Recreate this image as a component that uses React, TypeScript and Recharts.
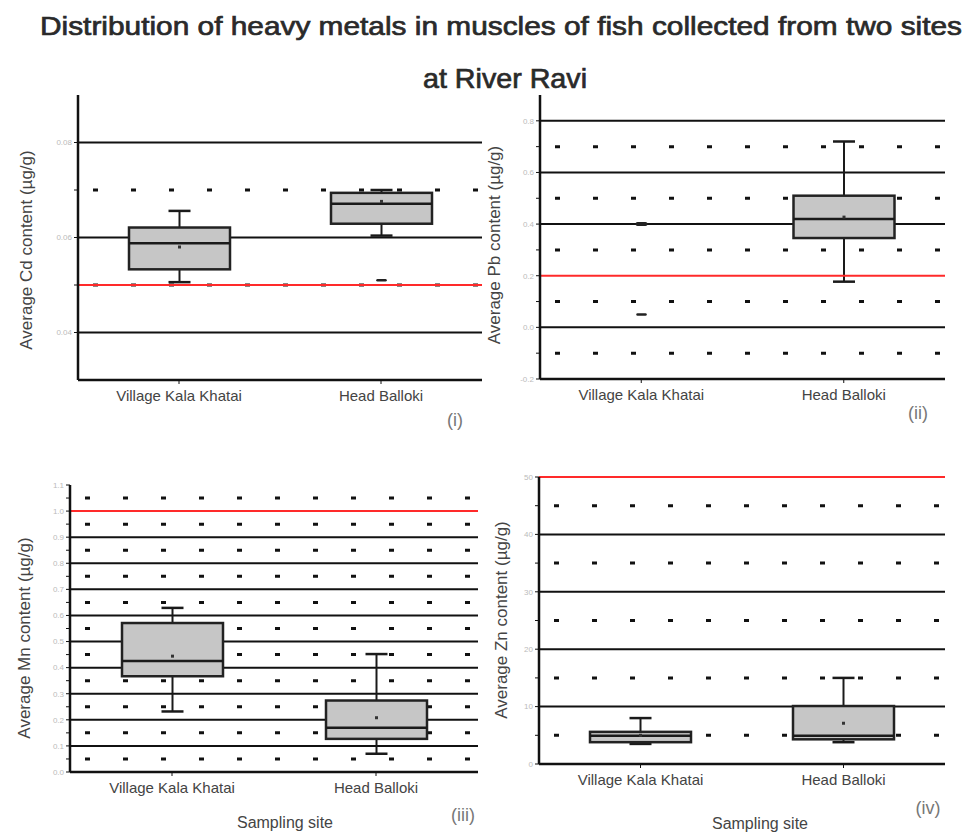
import React from 'react';
import { ComposedChart, Bar, XAxis, YAxis, ReferenceLine, CartesianGrid } from 'recharts';

const sites = ['Village Kala Khatai', 'Head Balloki'];

// Cd (panel i)
const cdMin = [0.0506, 0.0604];
const cdQ1 = [0.0533, 0.0629];
const cdMedian = [0.0588, 0.0671];
const cdQ3 = [0.0621, 0.0694];
const cdMax = [0.0656, 0.07];
const cdMean = [0.058, 0.0676];
const cdOutliers = [[], [0.051]];
const cdMajor = [0.04, 0.06, 0.08];
const cdMinor = [0.05, 0.07];

// Pb (panel ii)
const pbMin = [null, 0.177];
const pbQ1 = [null, 0.346];
const pbMedian = [null, 0.42];
const pbQ3 = [null, 0.51];
const pbMax = [null, 0.72];
const pbMean = [null, 0.427];
const pbOutliers = [[0.4, 0.05], []];
const pbMajor = [-0.2, 0, 0.2, 0.4, 0.6, 0.8];
const pbMinor = [-0.1, 0.1, 0.3, 0.5, 0.7];

// Mn (panel iii)
const mnMin = [0.232, 0.07];
const mnQ1 = [0.367, 0.127];
const mnMedian = [0.425, 0.17];
const mnQ3 = [0.571, 0.274];
const mnMax = [0.629, 0.452];
const mnMean = [0.444, 0.208];
const mnOutliers = [[], []];
const mnMajor = [0, 0.1, 0.2, 0.3, 0.4, 0.5, 0.6, 0.7, 0.8, 0.9, 1.0, 1.1];
const mnMinor = [0.05, 0.15, 0.25, 0.35, 0.45, 0.55, 0.65, 0.75, 0.85, 0.95, 1.05];

// Zn (panel iv)
const znMin = [3.5, 3.8];
const znQ1 = [3.8, 4.3];
const znMedian = [4.9, 4.9];
const znQ3 = [5.6, 10.1];
const znMax = [8.0, 15];
const znMean = [5.0, 7.1];
const znOutliers = [[], []];
const znMajor = [0, 10, 20, 30, 40, 50];
const znMinor = [5, 15, 25, 35, 45];

const build = (mn: any[], q1: any[], md: any[], q3: any[], mx: any[], mean: any[], out: number[][]) =>
  sites.map((site, i) => ({ site, min: mn[i], q1: q1[i], median: md[i], q3: q3[i], max: mx[i], mean: mean[i], outliers: out[i] }));

const extent = (d: any): [number, number] => {
  const vals = [d.min, d.max, ...d.outliers].filter((v) => v != null);
  return [Math.min(...vals), Math.max(...vals)];
};

function BoxShape(props: any) {
  const { x, y, width, height, payload } = props;
  if (!payload) return null;
  const [lo, hi] = extent(payload);
  const top = Math.min(y, y + height);
  const bottom = Math.max(y, y + height);
  const py = (v: number) => (hi === lo ? top : bottom - ((v - lo) / (hi - lo)) * (bottom - top));
  const cx = x + width / 2;
  const cap = 11;
  const ink = '#1a1a1a';
  return (
    <g>
      {payload.q1 != null && (
        <g>
          <line x1={cx} x2={cx} y1={py(payload.max)} y2={py(payload.q3)} stroke={ink} strokeWidth={2} />
          <line x1={cx} x2={cx} y1={py(payload.q1)} y2={py(payload.min)} stroke={ink} strokeWidth={2} />
          <line x1={cx - cap} x2={cx + cap} y1={py(payload.max)} y2={py(payload.max)} stroke={ink} strokeWidth={2.5} />
          <line x1={cx - cap} x2={cx + cap} y1={py(payload.min)} y2={py(payload.min)} stroke={ink} strokeWidth={2.5} />
          <rect x={x} y={py(payload.q3)} width={width} height={py(payload.q1) - py(payload.q3)} fill="#c6c6c6" stroke="#222" strokeWidth={2.5} />
          <line x1={x} x2={x + width} y1={py(payload.median)} y2={py(payload.median)} stroke={ink} strokeWidth={2.5} />
          <rect x={cx - 1.5} y={py(payload.mean) - 1.5} width={3} height={3} fill="#333" />
        </g>
      )}
      {payload.outliers.map((v: number, k: number) => (
        <line key={k} x1={cx - 4} x2={cx + 4} y1={py(v)} y2={py(v)} stroke="#222" strokeWidth={k === 0 && payload.q1 == null ? 4 : 2.5} strokeLinecap="round" />
      ))}
    </g>
  );
}

const FONT = '"Liberation Sans", Arial, sans-serif';

interface PanelProps {
  data: any[];
  left: number;
  top: number;
  width: number;
  margin: { top: number; right: number; left: number; bottom: number };
  domain: [number, number];
  major: number[];
  minor: number[];
  solid: number[];
  limit: number;
  digits: number;
}

function Panel({ data, left, top, width, margin, domain, major, minor, solid, limit, digits }: PanelProps) {
  const ticks = [...major, ...minor].sort((a, b) => a - b);
  return (
    <div style={{ position: 'absolute', left, top }}>
      <ComposedChart width={width} height={330} data={data} margin={margin}>
        <CartesianGrid vertical={false} horizontalValues={solid} stroke="#111" strokeWidth={2} />
        <CartesianGrid vertical={false} horizontalValues={minor} stroke="#111" strokeWidth={3} strokeDasharray="5 33" strokeDashoffset={-15} />
        <XAxis
          dataKey="site"
          axisLine={{ stroke: '#111', strokeWidth: 2.5 }}
          tickLine={{ stroke: '#111' }}
          tickSize={4}
          height={30}
          tick={{ fill: '#444', fontSize: 15, fontFamily: FONT, dy: 4 }}
          interval={0}
        />
        <YAxis
          type="number"
          domain={domain}
          allowDataOverflow
          ticks={ticks}
          width={30}
          axisLine={{ stroke: '#111', strokeWidth: 2.5 }}
          tickLine={{ stroke: '#111' }}
          tickSize={4}
          tick={{ fill: '#bbb', fontSize: 8, fontFamily: FONT }}
          tickFormatter={(v: number) => (major.includes(v) ? v.toFixed(digits) : '')}
        />
        <ReferenceLine y={limit} stroke="#ff2a2a" strokeWidth={2} />
        <Bar dataKey={extent} barSize={101} shape={<BoxShape />} isAnimationActive={false} />
      </ComposedChart>
    </div>
  );
}

export default function App() {
  const titleFont = '"Liberation Sans Narrow", "Liberation Sans", Arial, sans-serif';
  return (
    <div style={{ position: 'absolute', left: 0, top: 0, width: 971, height: 832, background: '#fff', overflow: 'hidden' }}>
      <Panel
        data={build(cdMin, cdQ1, cdMedian, cdQ3, cdMax, cdMean, cdOutliers)}
        left={0} top={85} width={490}
        margin={{ top: 10, right: 8, left: 48, bottom: 5 }}
        domain={[0.03, 0.09]} major={cdMajor} minor={cdMinor}
        solid={[0.04, 0.06, 0.08]} limit={0.05} digits={2}
      />
      <Panel
        data={build(pbMin, pbQ1, pbMedian, pbQ3, pbMax, pbMean, pbOutliers)}
        left={480} top={85} width={480}
        margin={{ top: 10, right: 15, left: 30, bottom: 6 }}
        domain={[-0.2, 0.9]} major={pbMajor} minor={pbMinor}
        solid={[0, 0.4, 0.6, 0.8]} limit={0.2} digits={1}
      />
      <Panel
        data={build(mnMin, mnQ1, mnMedian, mnQ3, mnMax, mnMean, mnOutliers)}
        left={0} top={475} width={490}
        margin={{ top: 10, right: 12, left: 40, bottom: 3 }}
        domain={[0, 1.1]} major={mnMajor} minor={mnMinor}
        solid={[0.1, 0.2, 0.3, 0.4, 0.5, 0.6, 0.7, 0.8, 0.9]} limit={1.0} digits={1}
      />
      <Panel
        data={build(znMin, znQ1, znMedian, znQ3, znMax, znMean, znOutliers)}
        left={480} top={467} width={480}
        margin={{ top: 10, right: 15, left: 29, bottom: 3 }}
        domain={[0, 50]} major={znMajor} minor={znMinor}
        solid={[10, 20, 30, 40]} limit={50} digits={0}
      />
      <svg width={971} height={832} style={{ position: 'absolute', left: 0, top: 0, pointerEvents: 'none' }}>
        <text x={40} y={35} fontSize={26} fontFamily={titleFont} fill="#2a2a2a" stroke="#2a2a2a" strokeWidth={0.7} textLength={922} lengthAdjust="spacingAndGlyphs">
          Distribution of heavy metals in muscles of fish collected from two sites
        </text>
        <text x={423} y={88} fontSize={28} fontFamily={titleFont} fill="#2a2a2a" stroke="#2a2a2a" strokeWidth={0.7} textLength={164} lengthAdjust="spacingAndGlyphs">
          at River Ravi
        </text>
        <text transform="translate(32,250) rotate(-90)" textAnchor="middle" fontSize={17} fontFamily={FONT} fill="#444">
          Average Cd content (µg/g)
        </text>
        <text transform="translate(500,245) rotate(-90)" textAnchor="middle" fontSize={17} fontFamily={FONT} fill="#444">
          Average Pb content (µg/g)
        </text>
        <text transform="translate(30,638) rotate(-90)" textAnchor="middle" fontSize={17} fontFamily={FONT} fill="#444">
          Average Mn content (µg/g)
        </text>
        <text transform="translate(507,620) rotate(-90)" textAnchor="middle" fontSize={17} fontFamily={FONT} fill="#444">
          Average Zn content (µg/g)
        </text>
        <text x={455} y={426} textAnchor="middle" fontSize={18} fontFamily={FONT} fill="#777">(i)</text>
        <text x={918} y={419} textAnchor="middle" fontSize={18} fontFamily={FONT} fill="#777">(ii)</text>
        <text x={463} y={821} textAnchor="middle" fontSize={18} fontFamily={FONT} fill="#777">(iii)</text>
        <text x={928} y={814} textAnchor="middle" fontSize={18} fontFamily={FONT} fill="#777">(iv)</text>
        <text x={285} y={828} textAnchor="middle" fontSize={16} fontFamily={FONT} fill="#444">Sampling site</text>
        <text x={760} y={829} textAnchor="middle" fontSize={16} fontFamily={FONT} fill="#444">Sampling site</text>
      </svg>
    </div>
  );
}
